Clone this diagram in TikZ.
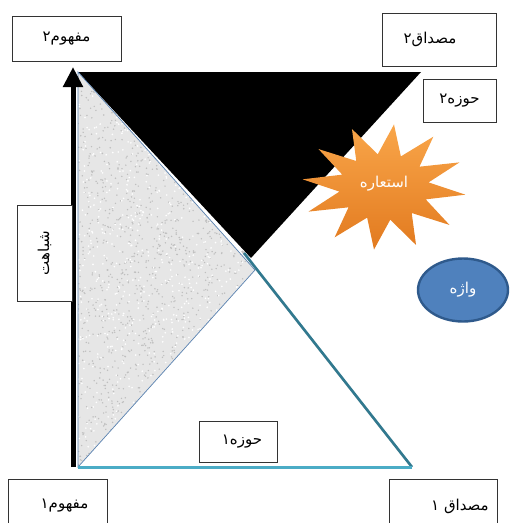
\documentclass[tikz,border=0pt]{standalone}
\usepackage{fontspec}
\newfontfamily\arabicfont[Script=Arabic]{DejaVu Sans}
\TeXXeTstate=1
\usetikzlibrary{arrows.meta,shapes.geometric}
\definecolor{tealedge}{HTML}{31798F}
\definecolor{baseblue}{HTML}{4BACC6}
\definecolor{greyfill}{HTML}{E6E6E6}
\definecolor{ellfill}{HTML}{4F81BD}
\definecolor{elldraw}{HTML}{2F5A8C}
\definecolor{starlight}{HTML}{F9A64A}
\definecolor{stardark}{HTML}{E27A1F}
\definecolor{edgeblue}{HTML}{5A82B0}
\tikzset{
  box/.style={draw=black!80, line width=1pt, fill=white, inner sep=0pt,
    font=\arabicfont\fontsize{15}{17}\selectfont},
  wtext/.style={text=white, font=\arabicfont\fontsize{15}{17}\selectfont},
}
\begin{document}
\begin{tikzpicture}[x=1pt,y=-1pt]
\useasboundingbox (0,0) rectangle (512,523);
\clip (0,0) rectangle (512,523);
% key points
\coordinate (TL) at (78,72);
\coordinate (TR) at (421,72);
\coordinate (BA) at (251,258);
\coordinate (GA) at (255,270);
\coordinate (GB) at (78,467);
\coordinate (LA) at (244,253);
\coordinate (BR) at (412,467);
\coordinate (AB) at (73,467);
\coordinate (AT) at (73,67);
% black triangle
\fill[black] (TL) -- (TR) -- (BA) -- cycle;
% grey triangle with texture
\begin{scope}
  \fill[greyfill] (TL) -- (GA) -- (GB) -- cycle;
  \clip (TL) -- (GA) -- (GB) -- cycle;
  \pgfmathsetseed{7}
  \foreach \i in {1,...,1600}{
    \pgfmathsetmacro{\px}{78+180*rnd}
    \pgfmathsetmacro{\py}{72+395*rnd}
    \fill[gray!50] (\px,\py) circle (0.8);
  }
  \foreach \i in {1,...,900}{
    \pgfmathsetmacro{\px}{78+180*rnd}
    \pgfmathsetmacro{\py}{72+395*rnd}
    \fill[white] (\px,\py) circle (0.9);
  }
\end{scope}
\draw[edgeblue, line width=0.7pt] (TL) -- (GA) -- (GB) -- cycle;
% lower triangle edges
\draw[gray!50, line width=2pt] ([xshift=-2pt,yshift=2pt]LA) -- ([xshift=-2pt,yshift=2pt]BR);
\draw[tealedge, line width=2.6pt] (LA) -- (BR);
\draw[baseblue, line width=3pt] (GB) -- (BR);
% arrow
\draw[line width=5pt, -{Triangle[width=19pt,length=20pt]}] (AB) -- (AT);
% boxes
\node[box, minimum width=109pt, minimum height=45pt] (m2) at (66.5,38.5) {\beginR مفهوم۲\endR};
\node[box, minimum width=114pt, minimum height=53pt] (s2) at (439,39.5) {\beginR مصداق۲\endR\hspace*{18pt}};
\node[box, minimum width=73pt, minimum height=43pt] (h2) at (459.5,100.5) {\beginR حوزه۲\endR};
\node[box, minimum width=55pt, minimum height=96pt] (sh) at (44.5,253) {};
\node[font=\arabicfont\fontsize{15}{17}\selectfont, rotate=90] (shtext) at (sh.center) {\beginR شباهت\endR};
\node[box, minimum width=99pt, minimum height=54pt] (m1) at (57.5,506) {\hspace*{14pt}\beginR مفهوم۱\endR};
\node[box, minimum width=108pt, minimum height=54pt] (s1) at (443,506) {\hspace*{34pt}\beginR مصداق ۱\endR};
\node[box, minimum width=78pt, minimum height=41pt] (h1) at (238,441.5) {\hspace*{8pt}\beginR حوزه۱\endR};
% star
\shade[top color=starlight, bottom color=stardark]
  plot[samples at={0,15,...,345}, smooth cycle, tension=0]
  ({384+(mod(\x,30)==0 ? 82 : 45)*cos(\x+7)}, {187+(mod(\x,30)==0 ? 63 : 33)*sin(\x+7)}) -- cycle;
\node[wtext] (star) at (384,184) {\beginR استعاره\endR};
% ellipse
\node[ellipse, draw=elldraw, fill=ellfill, line width=2.4pt, minimum width=90pt, minimum height=63pt, wtext] (w) at (463,290) {\beginR واژه\endR};
\end{tikzpicture}
\end{document}
